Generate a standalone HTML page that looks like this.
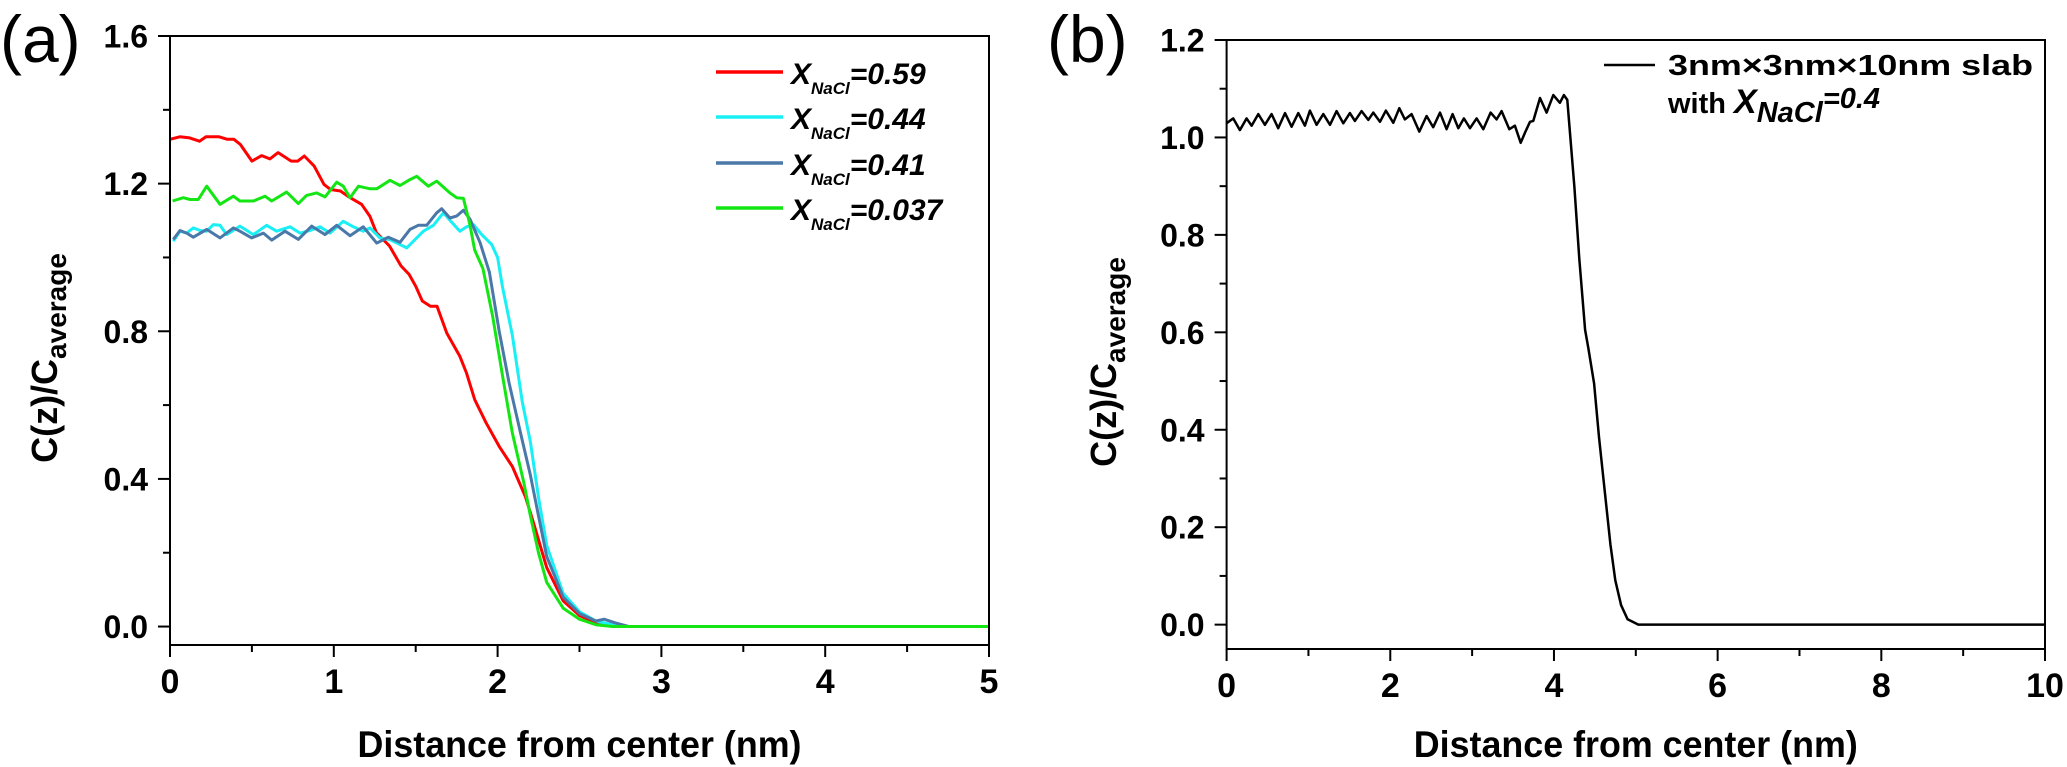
<!DOCTYPE html>
<html><head><meta charset="utf-8"><title>Concentration profiles</title>
<style>
html,body{margin:0;padding:0;background:#fff;}
svg{display:block;font-family:"Liberation Sans",Arial,sans-serif;}
.nar{font-family:"Liberation Sans Narrow","Liberation Sans",Arial,sans-serif;}
</style></head>
<body>
<svg id="fig" width="2067" height="767" viewBox="0 0 2067 767" xmlns="http://www.w3.org/2000/svg">
<rect x="0" y="0" width="2067" height="767" fill="#fff"/>
<text x="0" y="62" font-size="66">(a)</text>
<text x="1047" y="62" font-size="66">(b)</text>
<g id="pa"></g>
<g id="pb"></g>
<g font-weight="bold" font-style="italic">
 <line x1="716" y1="72" x2="783" y2="72" stroke="#ff0000" stroke-width="3.5"/>
 <text x="791" y="84" font-size="30">X<tspan font-size="17" dy="10">NaCl</tspan><tspan dy="-10">=0.59</tspan></text>
 <line x1="716" y1="117" x2="783" y2="117" stroke="#19f0f5" stroke-width="3.5"/>
 <text x="791" y="129" font-size="30">X<tspan font-size="17" dy="10">NaCl</tspan><tspan dy="-10">=0.44</tspan></text>
 <line x1="716" y1="163" x2="783" y2="163" stroke="#4a78a8" stroke-width="3.5"/>
 <text x="791" y="175" font-size="30">X<tspan font-size="17" dy="10">NaCl</tspan><tspan dy="-10">=0.41</tspan></text>
 <line x1="716" y1="208" x2="783" y2="208" stroke="#14e614" stroke-width="3.5"/>
 <text x="791" y="220" font-size="30">X<tspan font-size="17" dy="10">NaCl</tspan><tspan dy="-10">=0.037</tspan></text>
</g>
<g font-weight="bold">
 <line x1="1604" y1="65" x2="1655" y2="65" stroke="#000" stroke-width="2.5"/>
 <text x="1668" y="75" font-size="29" textLength="365" lengthAdjust="spacingAndGlyphs">3nm×3nm×10nm slab</text>
 <text x="1668" y="113" font-size="29">with <tspan font-style="italic" font-size="34">X</tspan><tspan font-style="italic" font-size="29" dy="9">NaCl</tspan><tspan font-style="italic" dy="-14">=0.4</tspan></text>
</g>
</svg>
<script>
// ---- Panel (a) data ----
const aXTicks = [0,1,2,3,4,5];
const aYTicks = [0.0,0.4,0.8,1.2,1.6];
const aYTickLabels = ["0.0","0.4","0.8","1.2","1.6"];
const aRedX = [0,0.06,0.12,0.18,0.22,0.3,0.35,0.39,0.43,0.5,0.56,0.61,0.66,0.74,0.78,0.82,0.88,0.94,0.98,1.04,1.1,1.17,1.22,1.26,1.34,1.41,1.46,1.5,1.54,1.59,1.63,1.69,1.77,1.81,1.86,1.93,2.01,2.09,2.17,2.22,2.3,2.4,2.5,2.6,2.75,5];
const aRedY = [1.32,1.327,1.324,1.315,1.327,1.327,1.32,1.32,1.306,1.261,1.276,1.267,1.284,1.261,1.261,1.275,1.248,1.198,1.184,1.18,1.162,1.144,1.112,1.067,1.031,0.977,0.954,0.922,0.882,0.868,0.868,0.795,0.732,0.687,0.615,0.552,0.488,0.434,0.352,0.28,0.16,0.07,0.03,0.01,0,0];
const aCyanX = [0.02,0.061,0.102,0.142,0.183,0.224,0.265,0.305,0.346,0.427,0.509,0.59,0.651,0.733,0.794,0.855,0.916,0.977,1.058,1.119,1.18,1.221,1.282,1.343,1.404,1.445,1.486,1.547,1.608,1.669,1.709,1.77,1.811,1.852,1.903,1.964,2.0,2.03,2.09,2.15,2.2,2.25,2.3,2.4,2.5,2.6,2.7,2.8,5];
const aCyanY = [1.044,1.071,1.066,1.08,1.073,1.071,1.089,1.087,1.062,1.085,1.062,1.087,1.071,1.083,1.066,1.073,1.083,1.066,1.098,1.083,1.071,1.08,1.053,1.048,1.035,1.026,1.044,1.071,1.087,1.121,1.101,1.071,1.083,1.089,1.062,1.035,1.0,0.92,0.79,0.61,0.5,0.35,0.22,0.09,0.04,0.015,0.005,0,0];
const aBlueX = [0.02,0.061,0.102,0.142,0.224,0.305,0.387,0.427,0.499,0.57,0.621,0.702,0.783,0.865,0.946,1.018,1.099,1.18,1.262,1.333,1.404,1.465,1.516,1.567,1.628,1.659,1.709,1.75,1.791,1.832,1.893,1.95,2.01,2.07,2.14,2.2,2.25,2.3,2.4,2.5,2.6,2.65,2.72,2.8,5];
const aBlueY = [1.049,1.073,1.066,1.055,1.076,1.053,1.08,1.071,1.053,1.066,1.047,1.071,1.049,1.085,1.062,1.087,1.059,1.083,1.039,1.055,1.041,1.076,1.087,1.087,1.121,1.132,1.107,1.112,1.128,1.103,1.04,0.96,0.8,0.66,0.525,0.41,0.3,0.19,0.08,0.035,0.015,0.02,0.01,0,0];
const aGreenX = [0.016,0.081,0.122,0.173,0.224,0.305,0.387,0.427,0.509,0.58,0.621,0.712,0.783,0.834,0.895,0.946,1.018,1.058,1.099,1.15,1.221,1.262,1.343,1.404,1.465,1.506,1.577,1.628,1.709,1.75,1.791,1.83,1.86,1.91,1.97,2.03,2.09,2.16,2.2,2.25,2.3,2.4,2.5,2.6,2.7,5];
const aGreenY = [1.153,1.162,1.157,1.157,1.193,1.144,1.166,1.153,1.153,1.166,1.153,1.177,1.146,1.168,1.175,1.164,1.204,1.193,1.162,1.193,1.186,1.186,1.209,1.195,1.211,1.22,1.193,1.207,1.175,1.162,1.16,1.09,1.02,0.97,0.84,0.68,0.525,0.39,0.3,0.2,0.12,0.05,0.02,0.005,0,0];

// ---- Panel (b) data ----
const bXTicks = [0,2,4,6,8,10];
const bYTicks = [0.0,0.2,0.4,0.6,0.8,1.0,1.2];
const bYTickLabels = ["0.0","0.2","0.4","0.6","0.8","1.0","1.2"];
const bSlabX = [0,0.081,0.163,0.244,0.305,0.387,0.468,0.55,0.631,0.713,0.794,0.876,0.957,1.018,1.1,1.181,1.263,1.344,1.426,1.507,1.568,1.65,1.731,1.792,1.874,1.947,2.037,2.11,2.179,2.261,2.354,2.444,2.525,2.607,2.688,2.762,2.831,2.9,2.974,3.055,3.136,3.226,3.299,3.36,3.454,3.523,3.593,3.646,3.707,3.747,3.829,3.91,3.992,4.073,4.122,4.163,4.25,4.31,4.38,4.42,4.49,4.55,4.62,4.69,4.75,4.82,4.9,5.03,10];
const bSlabY = [1.029,1.039,1.015,1.039,1.024,1.048,1.026,1.048,1.019,1.05,1.022,1.05,1.024,1.055,1.026,1.048,1.026,1.054,1.029,1.05,1.034,1.054,1.036,1.051,1.032,1.055,1.03,1.06,1.037,1.048,1.012,1.044,1.021,1.051,1.017,1.048,1.019,1.039,1.019,1.039,1.017,1.051,1.037,1.054,1.017,1.024,0.989,1.01,1.032,1.034,1.081,1.051,1.087,1.071,1.087,1.077,0.898,0.751,0.605,0.568,0.495,0.385,0.275,0.165,0.091,0.04,0.011,0,0];

const NS = "http://www.w3.org/2000/svg";
function mk(tag, parent){ const e=document.createElementNS(NS,tag); parent.appendChild(e); return e; }

function drawPanel(g, cfg){
  const sx = v => cfg.left + (v - cfg.xmin)/(cfg.xmax - cfg.xmin)*(cfg.right - cfg.left);
  const sy = v => cfg.bottom - (v - cfg.ymin)/(cfg.ymax - cfg.ymin)*(cfg.bottom - cfg.top);
  cfg.series.forEach(s=>{
    const p = mk("polyline", g);
    
    
    p.setAttribute("points", s.x.map((v,i)=>sx(v).toFixed(1)+","+sy(s.y[i]).toFixed(1)).join(" "));
    p.setAttribute("fill","none"); p.setAttribute("stroke",s.color);
    p.setAttribute("stroke-width",s.w); p.setAttribute("stroke-linejoin","round");
  });
  const fr = mk("rect", g);
  
  
  fr.setAttribute("x",cfg.left); fr.setAttribute("y",cfg.top);
  fr.setAttribute("width",cfg.right-cfg.left); fr.setAttribute("height",cfg.bottom-cfg.top);
  fr.setAttribute("fill","none"); fr.setAttribute("stroke","#000"); fr.setAttribute("stroke-width","2");
  cfg.xTicks.forEach((t,i)=>{
    const X = sx(t);
    const l = mk("line", g);
    
    
    l.setAttribute("x1",X); l.setAttribute("x2",X); l.setAttribute("y1",cfg.bottom); l.setAttribute("y2",cfg.bottom+12);
    l.setAttribute("stroke","#000"); l.setAttribute("stroke-width","2");
    if(i < cfg.xTicks.length-1){
      const m = mk("line", g);
      
      
      const Xm = sx((t+cfg.xTicks[i+1])/2);
      m.setAttribute("x1",Xm); m.setAttribute("x2",Xm); m.setAttribute("y1",cfg.bottom); m.setAttribute("y2",cfg.bottom+7);
      m.setAttribute("stroke","#000"); m.setAttribute("stroke-width","2");
    }
    const tx = mk("text", g);
    
    
    tx.setAttribute("class","nar");
    tx.setAttribute("x",X); tx.setAttribute("y",cfg.bottom+48);
    tx.setAttribute("text-anchor","middle"); tx.setAttribute("font-size","34"); tx.setAttribute("font-weight","bold");
    tx.textContent = String(t);
  });
  cfg.yTicks.forEach((t,i)=>{
    const Y = sy(t);
    const l = mk("line", g);
    
    
    l.setAttribute("x1",cfg.left-12); l.setAttribute("x2",cfg.left); l.setAttribute("y1",Y); l.setAttribute("y2",Y);
    l.setAttribute("stroke","#000"); l.setAttribute("stroke-width","2");
    if(i < cfg.yTicks.length-1){
      const m = mk("line", g);
      
      
      const Ym = sy((t+cfg.yTicks[i+1])/2);
      m.setAttribute("x1",cfg.left-7); m.setAttribute("x2",cfg.left); m.setAttribute("y1",Ym); m.setAttribute("y2",Ym);
      m.setAttribute("stroke","#000"); m.setAttribute("stroke-width","2");
    }
    const tx = mk("text", g);
    
    
    tx.setAttribute("class","nar");
    tx.setAttribute("x",cfg.left-22); tx.setAttribute("y",Y+11.5);
    tx.setAttribute("text-anchor","end"); tx.setAttribute("font-size","32"); tx.setAttribute("font-weight","bold");
    tx.textContent = cfg.yTickLabels[i];
  });
  const xt = mk("text", g);
  
  
  xt.setAttribute("class","nar");
  xt.setAttribute("x",(cfg.left+cfg.right)/2 - 222); xt.setAttribute("y",757);
  xt.setAttribute("font-size","37"); xt.setAttribute("font-weight","bold");
  xt.setAttribute("textLength","444"); xt.setAttribute("lengthAdjust","spacingAndGlyphs");
  xt.textContent = "Distance from center (nm)";
  const yt = mk("text", g);
  
  
  yt.setAttribute("transform","translate("+(cfg.ytx)+","+cfg.yty+") rotate(-90)");
  yt.setAttribute("text-anchor","middle"); yt.setAttribute("font-size","36"); yt.setAttribute("font-weight","bold");
  const t1 = mk("tspan", yt); t1.textContent = "C(z)/C";
  const t2 = mk("tspan", yt); t2.setAttribute("font-size","28"); t2.setAttribute("dy","9"); t2.textContent = "average";
}

drawPanel(document.getElementById("pa"), {
  left:170, right:989, top:36, bottom:645, xmin:0, xmax:5, ymin:-0.05, ymax:1.6,
  xTicks:aXTicks, yTicks:aYTicks, yTickLabels:aYTickLabels, ytx:57, yty:358,
  series:[
    {name:"series-x0.59", x:aRedX, y:aRedY, color:"#ff0000", w:3},
    {name:"series-x0.44", x:aCyanX, y:aCyanY, color:"#19f0f5", w:3},
    {name:"series-x0.41", x:aBlueX, y:aBlueY, color:"#4a78a8", w:3},
    {name:"series-x0.037", x:aGreenX, y:aGreenY, color:"#14e614", w:3}
  ]
});
drawPanel(document.getElementById("pb"), {
  left:1226.6, right:2045, top:40, bottom:649, xmin:0, xmax:10, ymin:-0.05, ymax:1.2,
  xTicks:bXTicks, yTicks:bYTicks, yTickLabels:bYTickLabels, ytx:1116, yty:362,
  series:[
    {name:"series-slab-x0.4", x:bSlabX, y:bSlabY, color:"#000", w:2.5}
  ]
});
</script>
</body></html>
